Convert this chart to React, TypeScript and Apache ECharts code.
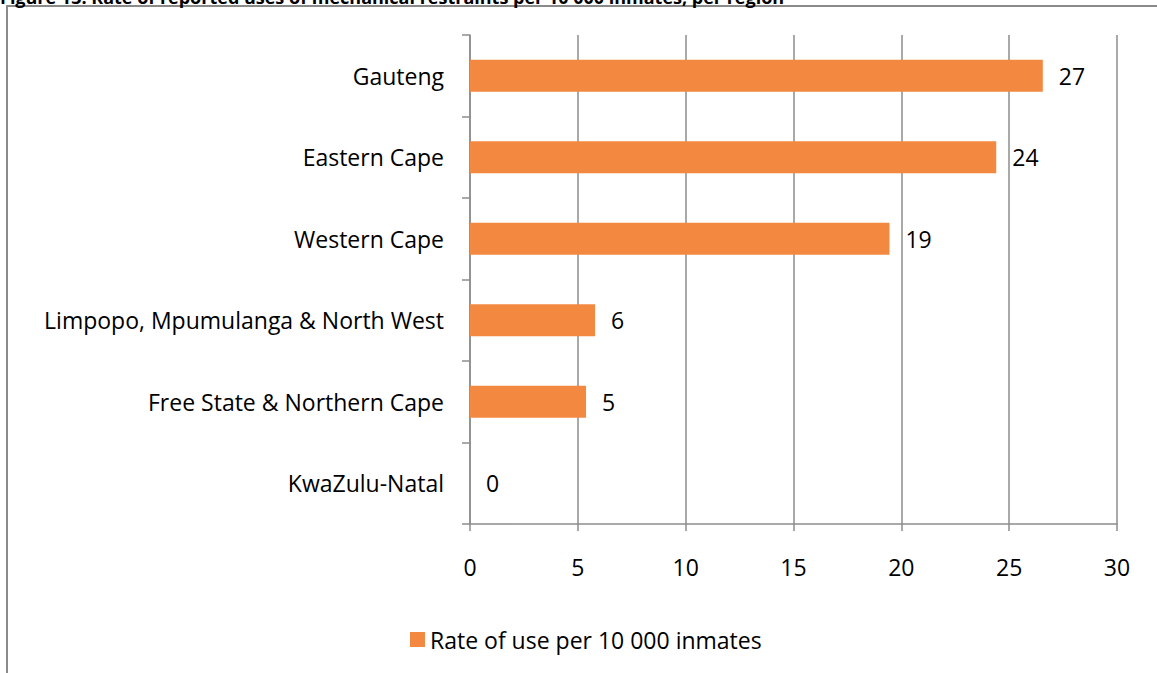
import React, { useEffect, useRef } from "react";
import * as echarts from "echarts";

const categories = [
  "Gauteng",
  "Eastern Cape",
  "Western Cape",
  "Limpopo, Mpumulanga & North West",
  "Free State & Northern Cape",
  "KwaZulu-Natal",
];
const rateValues = [26.56, 24.4, 19.45, 5.8, 5.38, 0];
const xTicks = { min: 0, max: 30, interval: 5 };
const seriesName = "Rate of use per 10 000 inmates";
const titleText =
  "Figure 13: Rate of reported uses of mechanical restraints per 10 000 inmates, per region";

const FONT = "'Open Sans', sans-serif";
const FS = 23;
const GRID_COLOR = "#8c8c8c";
const BAR_COLOR = "#F38940";

export default function App() {
  const ref = useRef<HTMLDivElement>(null);

  useEffect(() => {
    if (!ref.current) return;
    const chart = echarts.init(ref.current, undefined, { renderer: "svg" });
    chart.setOption({
      animation: false,
      backgroundColor: "#ffffff",
      textStyle: { fontFamily: FONT },
      graphic: [
        {
          type: "rect",
          shape: { x: 7, y: 6, width: 1300, height: 800 },
          style: { fill: "none", stroke: "#8a8a8a", lineWidth: 2 },
          silent: true,
        },
        {
          type: "text",
          left: 0,
          top: -12,
          style: {
            text: titleText,
            font: "bold 18px 'Open Sans', sans-serif",
            fill: "#000",
          },
          silent: true,
        },
      ],
      legend: {
        show: true,
        left: 410,
        top: 628,
        padding: 0,
        icon: "rect",
        itemWidth: 15,
        itemHeight: 15,
        itemGap: 7,
        textStyle: { fontSize: FS, color: "#000", fontFamily: FONT },
        data: [seriesName],
      },
      grid: { left: 470, right: 40, top: 35, bottom: 149, containLabel: false },
      xAxis: {
        type: "value",
        min: xTicks.min,
        max: xTicks.max,
        interval: xTicks.interval,
        axisLine: { show: true, lineStyle: { color: GRID_COLOR, width: 1.5 } },
        axisTick: { show: true, length: 7, lineStyle: { color: GRID_COLOR, width: 1.5 } },
        splitLine: { show: true, lineStyle: { color: GRID_COLOR, width: 1.5 } },
        axisLabel: { fontSize: FS, color: "#000", margin: 31, fontFamily: FONT },
      },
      yAxis: {
        type: "category",
        inverse: true,
        data: categories,
        axisLine: { show: true, lineStyle: { color: GRID_COLOR, width: 1.5 } },
        axisTick: { show: true, length: 8, alignWithLabel: false, lineStyle: { color: GRID_COLOR, width: 1.5 } },
        axisLabel: { fontSize: FS, color: "#000", margin: 26, fontFamily: FONT },
      },
      series: [
        {
          name: seriesName,
          type: "bar",
          data: rateValues,
          barCategoryGap: "61%",
          itemStyle: { color: BAR_COLOR },
          label: {
            show: true,
            position: "right",
            distance: 16,
            fontSize: FS,
            color: "#000",
            fontFamily: FONT,
            formatter: (p: any) => String(Math.round(p.value)),
          },
        },
      ],
    });
    return () => chart.dispose();
  }, []);

  return (
    <div
      ref={ref}
      style={{ position: "absolute", left: 0, top: 0, width: 1157, height: 673 }}
    />
  );
}
